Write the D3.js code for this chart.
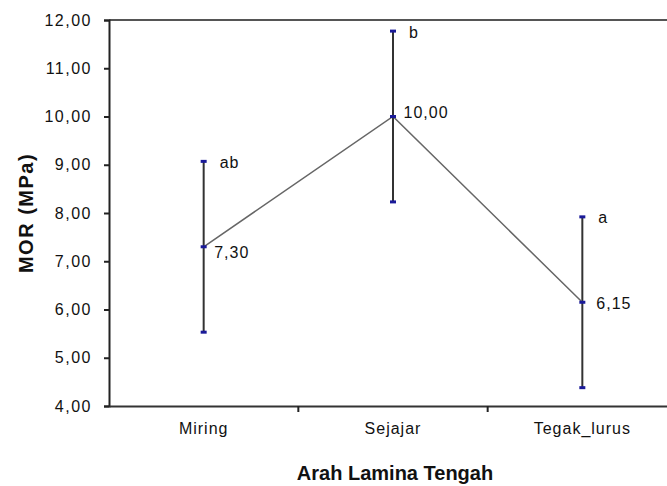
<!DOCTYPE html>
<html>
<head>
<meta charset="utf-8">
<script src="https://cdn.jsdelivr.net/npm/d3@7"></script>
<style>
  html, body { margin: 0; padding: 0; background: #fff; overflow: hidden; }
  svg { display: block; font-family: Arial, "Liberation Sans", sans-serif; }
</style>
</head>
<body>
<div id="chart"></div>
<script>
'use strict';

// ─── Data ──────────────────────────────────────────────────────────────────
const categories = ['Miring', 'Sejajar', 'Tegak_lurus'];
const means      = [7.30, 10.00, 6.15];
const upper      = [9.07, 11.77, 7.92];
const lower      = [5.53, 8.23, 4.38];
const letters    = ['ab', 'b', 'a'];
const valueText  = ['7,30', '10,00', '6,15'];
const yTicks     = [4, 5, 6, 7, 8, 9, 10, 11, 12];

// ─── Layout ────────────────────────────────────────────────────────────────
const W = 667, H = 486;
const M = { left: 109, top: 20, right: 677, bottom: 406 };
const FONT = 'Arial, "Liberation Sans", sans-serif';

const svg = d3.select('#chart').append('svg')
    .attr('width', W).attr('height', H);

const x = d3.scaleBand().domain(categories).range([M.left, M.right]);
const y = d3.scaleLinear().domain([4, 12]).range([M.bottom, M.top]);

const fmt = function (v) { return v.toFixed(2).replace('.', ','); };
const cx  = function (i) { return x(categories[i]) + x.bandwidth() / 2; };

// top border
svg.append('line')
    .attr('x1', M.left).attr('x2', M.right)
    .attr('y1', M.top).attr('y2', M.top)
    .attr('stroke', '#555').attr('stroke-width', 2);

// y axis
const yAxis = svg.append('g')
    .attr('transform', 'translate(' + M.left + ',0)')
    .call(d3.axisLeft(y).tickValues(yTicks).tickFormat(fmt).tickSize(5).tickPadding(12));
yAxis.select('.domain').attr('stroke', '#222').attr('stroke-width', 2);
yAxis.selectAll('.tick line').attr('stroke', '#222').attr('stroke-width', 2);
yAxis.selectAll('.tick text')
    .attr('font-size', 16).attr('letter-spacing', 1.5)
    .attr('fill', '#111').attr('font-family', FONT);

// x axis
const xAxis = svg.append('g')
    .attr('transform', 'translate(0,' + M.bottom + ')')
    .call(d3.axisBottom(x).tickSize(0).tickPadding(17));
xAxis.select('.domain').attr('stroke', '#333').attr('stroke-width', 2);
xAxis.selectAll('.tick text')
    .attr('font-size', 16).attr('letter-spacing', 1)
    .attr('fill', '#111').attr('font-family', FONT);

// category separator ticks
svg.selectAll('.sep')
    .data(categories.slice(1))
    .enter().append('line')
    .attr('class', 'sep')
    .attr('x1', function (d) { return x(d); })
    .attr('x2', function (d) { return x(d); })
    .attr('y1', M.bottom).attr('y2', M.bottom + 6)
    .attr('stroke', '#222').attr('stroke-width', 2);

// error bars
svg.selectAll('.err')
    .data(categories)
    .enter().append('line')
    .attr('class', 'err')
    .attr('x1', function (d, i) { return cx(i); })
    .attr('x2', function (d, i) { return cx(i); })
    .attr('y1', function (d, i) { return y(upper[i]); })
    .attr('y2', function (d, i) { return y(lower[i]); })
    .attr('stroke', '#333').attr('stroke-width', 2);

// mean line
svg.append('path')
    .datum(means)
    .attr('fill', 'none')
    .attr('stroke', '#666')
    .attr('stroke-width', 1.5)
    .attr('d', d3.line()
        .x(function (d, i) { return cx(i); })
        .y(function (d) { return y(d); }));

// markers (caps + means)
const marks = [];
categories.forEach(function (c, i) {
    marks.push({ i: i, v: upper[i] }, { i: i, v: lower[i] }, { i: i, v: means[i] });
});
svg.selectAll('.mark')
    .data(marks)
    .enter().append('rect')
    .attr('class', 'mark')
    .attr('x', function (d) { return cx(d.i) - 3; })
    .attr('y', function (d) { return y(d.v) - 1.5; })
    .attr('width', 6).attr('height', 3)
    .attr('fill', '#1a1a99');

// letter labels
svg.selectAll('.letter')
    .data(letters)
    .enter().append('text')
    .attr('x', function (d, i) { return cx(i) + 16; })
    .attr('y', function (d, i) { return y(upper[i]) + 6.5; })
    .attr('font-size', 16).attr('letter-spacing', 1).attr('fill', '#111')
    .text(function (d) { return d; });

// value labels
svg.selectAll('.val')
    .data(valueText)
    .enter().append('text')
    .attr('x', function (d, i) { return cx(i) + (i === 2 ? 14 : 10.5); })
    .attr('y', function (d, i) { return y(means[i]) + (i === 1 ? 1 : 7 + (i === 0 ? 4 : 0)); })
    .attr('font-size', 16).attr('letter-spacing', 1).attr('fill', '#111')
    .text(function (d) { return d; });

// axis titles
svg.append('text')
    .attr('x', (M.left + M.right) / 2 + 2).attr('y', 480)
    .attr('text-anchor', 'middle')
    .attr('font-size', 20).attr('font-weight', 'bold').attr('fill', '#111')
    .text('Arah Lamina Tengah');

svg.append('text')
    .attr('transform', 'translate(33,213) rotate(-90)')
    .attr('text-anchor', 'middle')
    .attr('font-size', 20).attr('font-weight', 'bold')
    .attr('letter-spacing', 1.5).attr('fill', '#111')
    .text('MOR (MPa)');
</script>
</body>
</html>
